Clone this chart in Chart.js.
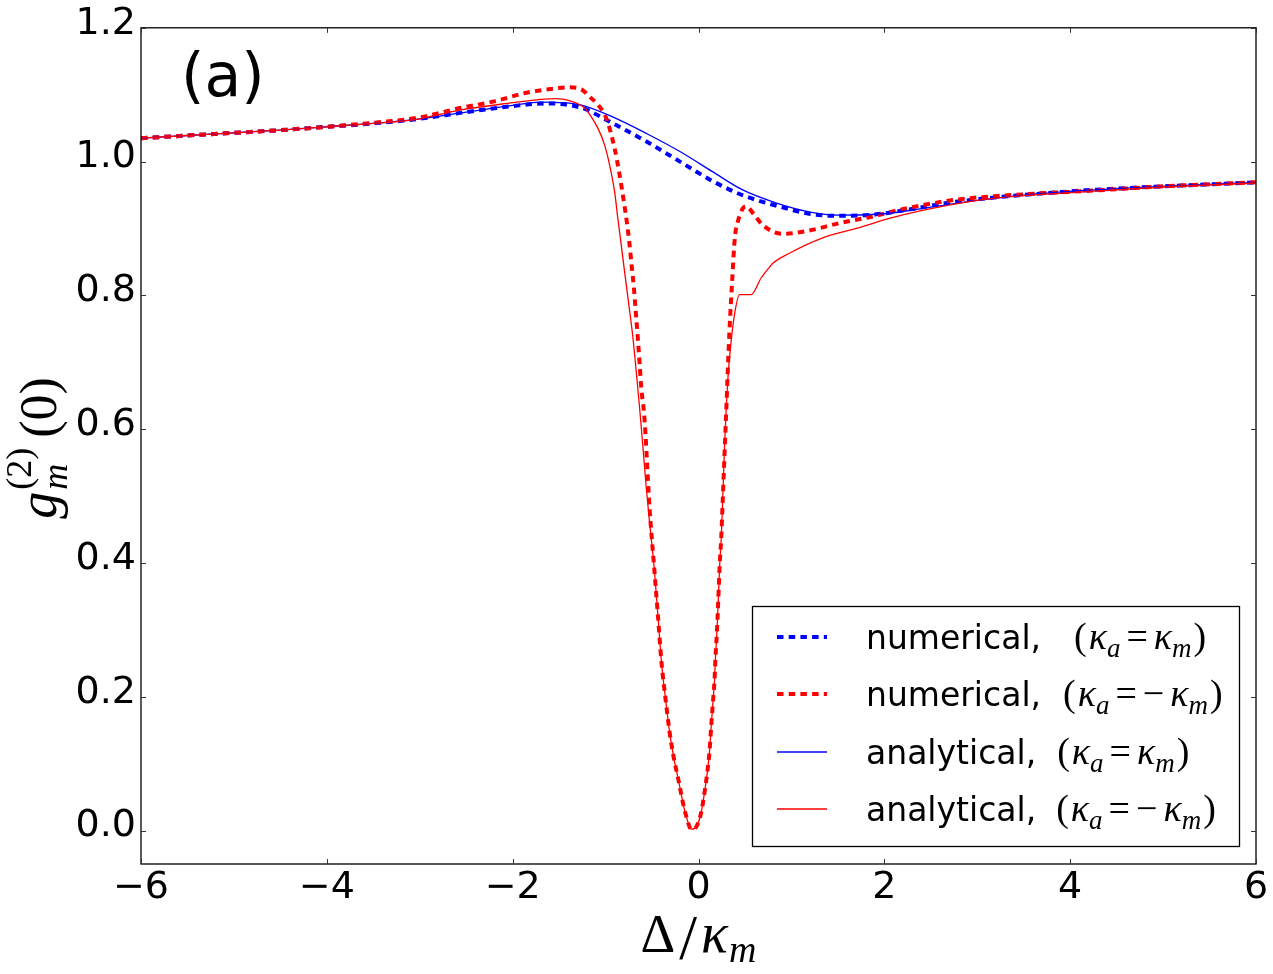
<!DOCTYPE html>
<html><head><meta charset="utf-8">
<script src="https://cdn.jsdelivr.net/npm/chart.js@4/dist/chart.umd.min.js"></script>
<style>html,body{margin:0;padding:0;background:#fff}#wrap{width:1273px;height:974px;position:relative}</style>
</head><body><div id="wrap"><canvas id="c"></canvas></div>
<script>
// ---- tick labels ----
const xTicks = [-6, -4, -2, 0, 2, 4, 6];
const yTicks = [0.0, 0.2, 0.4, 0.6, 0.8, 1.0, 1.2];

// ---- numerical, (kappa_a = kappa_m) : blue dashed ----
const xBlueNum = [-6,-5.5,-5,-4.5,-4,-3.5,-3,-2.5,-2,-1.65,-1.25,-0.96,-0.56,-0.2,0.15,0.47,0.84,1.19,1.45,1.9,2.25,2.77,3.49,4.17,5,6];
const yBlueNum = [1.035,1.039,1.043,1.047,1.052,1.057,1.064,1.074,1.083,1.087,1.080,1.060,1.030,1.000,0.971,0.950,0.934,0.922,0.919,0.921,0.928,0.940,0.950,0.957,0.963,0.969];

// ---- numerical, (kappa_a = -kappa_m) : red dashed ----
const xRedNum = [-6,-5.5,-5,-4.5,-4,-3.5,-3,-2.57,-2.2,-1.85,-1.5,-1.39,-1.25,-1.172,-1.083,-0.993,-0.903,-0.849,-0.803,-0.767,-0.742,-0.717,-0.695,-0.681,-0.652,-0.634,-0.616,-0.588,-0.570,-0.556,-0.527,-0.477,-0.437,-0.398,-0.355,-0.312,-0.269,-0.215,-0.165,-0.133,-0.078,-0.018,0.029,0.065,0.093,0.118,0.136,0.154,0.172,0.183,0.197,0.208,0.219,0.229,0.244,0.255,0.297,0.333,0.362,0.391,0.423,0.477,0.513,0.602,0.692,0.906,1.158,1.516,1.874,2.233,2.77,3.49,4.17,5,6];
const yRedNum = [1.035,1.039,1.043,1.047,1.052,1.058,1.066,1.080,1.090,1.103,1.110,1.111,1.107,1.097,1.085,1.065,1.020,0.980,0.940,0.905,0.876,0.841,0.811,0.786,0.734,0.699,0.662,0.627,0.592,0.555,0.483,0.393,0.322,0.251,0.197,0.148,0.111,0.075,0.040,0.022,0.002,0.007,0.027,0.057,0.085,0.117,0.154,0.189,0.224,0.259,0.294,0.328,0.366,0.400,0.435,0.473,0.622,0.746,0.821,0.886,0.910,0.930,0.933,0.920,0.905,0.892,0.896,0.908,0.918,0.930,0.943,0.951,0.956,0.963,0.969];

// ---- analytical, (kappa_a = kappa_m) : blue solid ----
const xBlueAna = [-6,-5.5,-5,-4.5,-4,-3.5,-3,-2.5,-2,-1.7,-1.45,-1.25,-0.96,-0.56,-0.2,0.15,0.47,0.84,1.19,1.5,2,2.5,3,3.5,4.17,5,6];
const yBlueAna = [1.035,1.039,1.043,1.047,1.052,1.057,1.064,1.074,1.084,1.089,1.088,1.084,1.069,1.042,1.015,0.985,0.958,0.938,0.925,0.920,0.922,0.932,0.942,0.950,0.957,0.963,0.969];

// ---- analytical, (kappa_a = -kappa_m) : red solid ----
const xRedAna = [-6,-5.5,-5,-4.5,-4,-3.5,-3,-2.57,-2,-1.7,-1.53,-1.39,-1.226,-1.154,-1.083,-1.011,-0.957,-0.903,-0.868,-0.832,-0.796,-0.760,-0.706,-0.670,-0.634,-0.599,-0.562,-0.52,-0.477,-0.437,-0.398,-0.355,-0.312,-0.269,-0.215,-0.165,-0.133,-0.078,-0.018,0.029,0.065,0.093,0.118,0.136,0.154,0.172,0.183,0.197,0.208,0.219,0.229,0.244,0.255,0.28,0.315,0.351,0.387,0.441,0.566,0.674,0.763,0.80,0.978,1.337,1.695,2.054,2.41,2.95,3.49,4.17,5,6];
const yRedAna = [1.035,1.039,1.043,1.047,1.052,1.057,1.064,1.077,1.088,1.093,1.094,1.091,1.080,1.067,1.050,1.025,0.995,0.955,0.915,0.876,0.836,0.797,0.737,0.686,0.632,0.575,0.512,0.452,0.393,0.322,0.251,0.197,0.148,0.111,0.075,0.040,0.022,0.002,0.007,0.027,0.057,0.085,0.117,0.154,0.189,0.224,0.259,0.294,0.328,0.366,0.400,0.435,0.473,0.572,0.672,0.731,0.771,0.801,0.801,0.826,0.842,0.848,0.863,0.886,0.900,0.915,0.927,0.941,0.949,0.955,0.962,0.968];

const pts = (xs, ys) => xs.map((x, i) => ({x: x, y: ys[i]}));

const SANS = '"DejaVu Sans", sans-serif';
const SERIF = '"Liberation Serif", "DejaVu Serif", serif';

function drawRuns(ctx, runs, x, y, measureOnly) {
  let cx = x;
  for (const r of runs) {
    if (r.stack) {
      let w = 0;
      for (const s of r.stack) {
        ctx.font = s.font;
        if (!measureOnly) ctx.fillText(s.t, cx, y + (s.dy || 0));
        w = Math.max(w, ctx.measureText(s.t).width);
      }
      cx += w + (r.sp || 0);
    } else {
      ctx.font = r.font;
      if (!measureOnly) ctx.fillText(r.t, cx, y + (r.dy || 0));
      cx += ctx.measureText(r.t).width + (r.sp || 0);
    }
  }
  return cx - x;
}

function mathRuns(neg, size) {
  const up = size + 'px ' + SERIF, it = 'italic ' + size + 'px ' + SERIF;
  const sub = 'italic ' + Math.round(size * 0.7) + 'px ' + SERIF;
  const dy = size * 0.22;
  const runs = [
    {t: '(', font: up, sp: 2},
    {t: '\u03BA', font: it},
    {t: 'a', font: sub, dy: dy, sp: 6},
    {t: '=', font: up, sp: 6}
  ];
  if (neg) runs.push({t: '\u2212', font: up, sp: 6});
  runs.push({t: '\u03BA', font: it});
  runs.push({t: 'm', font: sub, dy: dy, sp: 2});
  runs.push({t: ')', font: up});
  return runs;
}

const decor = {
  id: 'decor',
  afterDraw(chart) {
    const ctx = chart.ctx;
    const a = chart.chartArea;
    const xs = chart.scales.x, ys = chart.scales.y;
    ctx.save();
    // frame
    ctx.strokeStyle = '#000';
    ctx.lineWidth = 1.3;
    ctx.strokeRect(a.left, a.top, a.right - a.left, a.bottom - a.top);
    // inward ticks on all four sides
    ctx.lineWidth = 1;
    ctx.strokeStyle = '#333';
    const tl = 5;
    ctx.beginPath();
    for (const v of xTicks) {
      const px = Math.round(xs.getPixelForValue(v)) + 0.5;
      ctx.moveTo(px, a.bottom); ctx.lineTo(px, a.bottom - tl);
      ctx.moveTo(px, a.top); ctx.lineTo(px, a.top + tl);
    }
    for (const v of yTicks) {
      const py = Math.round(ys.getPixelForValue(v)) + 0.5;
      ctx.moveTo(a.left, py); ctx.lineTo(a.left + tl, py);
      ctx.moveTo(a.right, py); ctx.lineTo(a.right - tl, py);
    }
    ctx.stroke();

    ctx.fillStyle = '#000';
    ctx.textBaseline = 'alphabetic';
    ctx.textAlign = 'left';
    // panel label
    ctx.font = '60px ' + SANS;
    ctx.fillText('(a)', 181, 96);

    // x-axis title  Δ/κ_m
    const xr = [
      {t: '\u0394', font: '54px ' + SERIF, sp: 4},
      {t: '/', font: '64px ' + SERIF, dy: 7, sp: 4},
      {t: '\u03BA', font: 'italic 56px ' + SERIF, sp: 1},
      {t: 'm', font: 'italic 38px ' + SERIF, dy: 10}
    ];
    const xw = drawRuns(ctx, xr, 0, 0, true);
    drawRuns(ctx, xr, (a.left + a.right) / 2 - xw / 2, 952);

    // y-axis title  g_m^(2)(0)
    const yr = [
      {t: 'g', font: 'italic 54px ' + SERIF, sp: 2},
      {stack: [
        {t: '(2)', font: '36px ' + SERIF, dy: -25},
        {t: 'm', font: 'italic 36px ' + SERIF, dy: 11}
      ], sp: 10},
      {t: '(0)', font: '52px ' + SERIF}
    ];
    const yw = drawRuns(ctx, yr, 0, 0, true);
    ctx.save();
    ctx.translate(56, (a.top + a.bottom) / 2 + 2 + yw / 2);
    ctx.rotate(-Math.PI / 2);
    drawRuns(ctx, yr, 0, 0);
    ctx.restore();

    // legend
    const L = {x: 752, y: 606, w: 487, h: 240};
    ctx.fillStyle = '#fff';
    ctx.fillRect(L.x, L.y, L.w, L.h);
    ctx.strokeStyle = '#000';
    ctx.lineWidth = 1.3;
    ctx.strokeRect(L.x + 0.5, L.y + 0.5, L.w, L.h);
    const rows = [
      {ds: 0, label: 'numerical,', gap: 33, neg: false},
      {ds: 1, label: 'numerical,', gap: 22, neg: true},
      {ds: 2, label: 'analytical,', gap: 21, neg: false},
      {ds: 3, label: 'analytical,', gap: 20, neg: true}
    ];
    const rowY = [637, 694, 752, 809];
    rows.forEach((r, i) => {
      const d = chart.data.datasets[r.ds];
      const y = rowY[i];
      ctx.save();
      ctx.strokeStyle = d.borderColor;
      ctx.lineWidth = d.borderWidth;
      ctx.setLineDash(d.borderDash || []);
      ctx.beginPath();
      ctx.moveTo(777, y); ctx.lineTo(827, y);
      ctx.stroke();
      ctx.restore();
      ctx.fillStyle = '#000';
      ctx.font = '33px ' + SANS;
      const base = y + 12;
      ctx.fillText(r.label, 866, base);
      const w = ctx.measureText(r.label).width;
      drawRuns(ctx, mathRuns(r.neg, 38), 866 + w + r.gap, base);
    });
    ctx.restore();
  }
};

new Chart(document.getElementById('c'), {
  type: 'scatter',
  data: {
    datasets: [
      {label: 'numerical, (\u03BAa=\u03BAm)', data: pts(xBlueNum, yBlueNum), showLine: true,
       borderColor: '#0000ff', borderWidth: 4, borderDash: [6.5, 5.2], order: 4,
       cubicInterpolationMode: 'monotone', pointRadius: 0},
      {label: 'numerical, (\u03BAa=\u2212\u03BAm)', data: pts(xRedNum, yRedNum), showLine: true,
       borderColor: '#ff0000', borderWidth: 4, borderDash: [6.5, 5.2], order: 3,
       cubicInterpolationMode: 'monotone', pointRadius: 0},
      {label: 'analytical, (\u03BAa=\u03BAm)', data: pts(xBlueAna, yBlueAna), showLine: true,
       borderColor: '#0000ff', borderWidth: 1.3, order: 2,
       cubicInterpolationMode: 'monotone', pointRadius: 0},
      {label: 'analytical, (\u03BAa=\u2212\u03BAm)', data: pts(xRedAna, yRedAna), showLine: true,
       borderColor: '#ff0000', borderWidth: 1.3, order: 1,
       cubicInterpolationMode: 'monotone', pointRadius: 0}
    ]
  },
  options: {
    responsive: true,
    maintainAspectRatio: false,
    animation: false,
    devicePixelRatio: 1,
    layout: {padding: {top: 27, right: 17, left: 0, bottom: 0}},
    plugins: {legend: {display: false}, tooltip: {enabled: false}},
    scales: {
      x: {
        type: 'linear', min: -6, max: 6,
        afterBuildTicks: s => { s.ticks = xTicks.map(v => ({value: v})); },
        afterFit: s => { s.height = 110; },
        grid: {display: false, drawTicks: false},
        border: {display: false},
        ticks: {
          color: '#000', padding: 1, maxRotation: 0, autoSkip: false,
          font: {family: SANS, size: 38},
          callback: v => (v < 0 ? '\u2212' + Math.abs(v) : String(v))
        }
      },
      y: {
        type: 'linear', min: -0.05, max: 1.2,
        afterBuildTicks: s => { s.ticks = yTicks.map(v => ({value: v})); },
        afterFit: s => { s.width = 141; },
        grid: {display: false, drawTicks: false},
        border: {display: false},
        ticks: {
          color: '#000', padding: 5, autoSkip: false, labelOffset: -4,
          font: {family: SANS, size: 38},
          callback: v => v.toFixed(1)
        }
      }
    }
  },
  plugins: [decor]
});
</script>
</body></html>
